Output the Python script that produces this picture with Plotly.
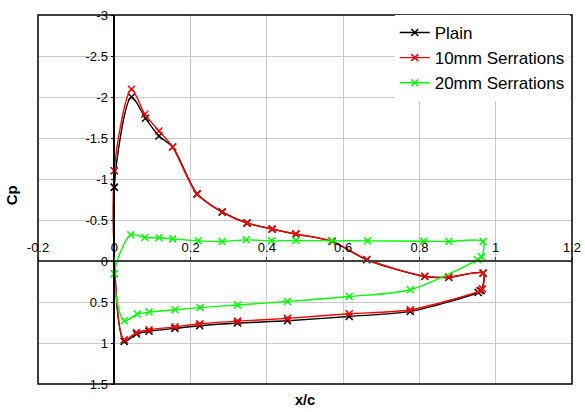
import plotly.graph_objects as go

# Pressure coefficient around the aerofoil: upper surface LE -> TE, then lower surface TE -> LE
plain_x = [0, 0.045, 0.082, 0.117, 0.153, 0.217, 0.283, 0.348, 0.414, 0.476, 0.571, 0.662, 0.814, 0.877, 0.967,
           0.962, 0.954, 0.776, 0.616, 0.454, 0.323, 0.224, 0.159, 0.091, 0.058, 0.026, 0]
plain_cp = [-0.90, -2.00, -1.74, -1.525, -1.39, -0.82, -0.596, -0.462, -0.389, -0.328, -0.238, -0.015, 0.19, 0.20, 0.148,
            0.36, 0.384, 0.615, 0.676, 0.729, 0.757, 0.79, 0.822, 0.857, 0.89, 0.98, -0.90]

serr10_x = [0, 0.045, 0.080, 0.117, 0.153, 0.217, 0.283, 0.348, 0.414, 0.476, 0.571, 0.662, 0.814, 0.877, 0.967,
            0.965, 0.958, 0.776, 0.616, 0.454, 0.323, 0.224, 0.159, 0.091, 0.058, 0.026, 0]
serr10_cp = [-1.10, -2.095, -1.79, -1.586, -1.39, -0.815, -0.60, -0.465, -0.39, -0.33, -0.24, -0.018, 0.185, 0.195, 0.15,
             0.34, 0.363, 0.595, 0.643, 0.70, 0.733, 0.765, 0.803, 0.838, 0.873, 0.96, -1.10]

serr20_x = [0, 0.043, 0.080, 0.117, 0.153, 0.220, 0.283, 0.346, 0.412, 0.476, 0.569, 0.664, 0.811, 0.877, 0.967,
            0.963, 0.952, 0.776, 0.616, 0.454, 0.323, 0.225, 0.159, 0.091, 0.060, 0.026, 0]
serr20_cp = [0.156, -0.32, -0.286, -0.283, -0.27, -0.246, -0.238, -0.258, -0.246, -0.25, -0.246, -0.246, -0.24, -0.238, -0.238,
             -0.05, -0.015, 0.351, 0.433, 0.493, 0.537, 0.568, 0.595, 0.623, 0.647, 0.729, 0.156]

series_names = ["Plain", "10mm Serrations", "20mm Serrations"]
series_colors = ["#000000", "#ff0000", "#00ff00"]

x_ticks = [-0.2, 0, 0.2, 0.4, 0.6, 0.8, 1, 1.2]
x_ticktext = ["-0.2", "0", "0.2", "0.4", "0.6", "0.8", "1", "1.2"]
y_ticks = [-3, -2.5, -2, -1.5, -1, -0.5, 0, 0.5, 1, 1.5]
y_ticktext = ["-3", "-2.5", "-2", "-1.5", "-1", "-0.5", "0", "0.5", "1", "1.5"]

FONT = "Liberation Sans, Arial, sans-serif"

fig = go.Figure()
for name, color, xs, ys in zip(series_names, series_colors,
                               [plain_x, serr10_x, serr20_x],
                               [plain_cp, serr10_cp, serr20_cp]):
    fig.add_trace(go.Scatter(
        x=xs, y=ys, name=name, mode="lines+markers",
        line=dict(color=color, width=1.4, shape="spline", smoothing=0.8),
        marker=dict(symbol="x-thin", size=7, color=color, line=dict(color=color, width=1.5)),
    ))

x_range = [-0.2, 1.2]
y_range = [1.5, -3]

fig.update_layout(
    width=585, height=412,
    margin=dict(l=38, r=12.5, t=15, b=28, autoexpand=False),
    paper_bgcolor="white", plot_bgcolor="white",
    font=dict(family=FONT, color="black"),
    showlegend=True,
    legend=dict(
        x=0.668, y=1.0, xanchor="left", yanchor="top",
        bgcolor="white", borderwidth=0,
        font=dict(family=FONT, size=17, color="black"),
        itemwidth=30, tracegroupgap=0,
    ),
    xaxis=dict(
        range=x_range, tickvals=x_ticks, ticktext=x_ticktext,
        anchor="free", position=(y_range[0] - 0) / (y_range[0] - y_range[1]), side="top",
        showline=True, linecolor="#404040", linewidth=1.5,
        ticks="outside", ticklen=3, tickcolor="#404040",
        showgrid=True, gridcolor="#c8c8c8", gridwidth=1,
        zeroline=False, tickfont=dict(size=13, family=FONT),
    ),
    yaxis=dict(
        range=y_range, tickvals=y_ticks, ticktext=y_ticktext,
        anchor="free", position=(0 - x_range[0]) / (x_range[1] - x_range[0]), side="left",
        showline=True, linecolor="black", linewidth=1.5,
        ticks="outside", ticklen=3, tickcolor="black",
        showgrid=True, gridcolor="#c8c8c8", gridwidth=1,
        zeroline=False, tickfont=dict(size=13, family=FONT),
    ),
)

# outer frame around the plotting area
fig.add_shape(type="rect", xref="paper", yref="paper", x0=0, y0=0, x1=1, y1=1,
              line=dict(color="black", width=1.5), layer="above")

# axis titles
fig.add_annotation(text="<b>x/c</b>", xref="paper", yref="paper", x=0.5, y=0,
                   xanchor="center", yanchor="top", yshift=-6, showarrow=False,
                   font=dict(size=14.5, family=FONT))
fig.add_annotation(text="<b>Cp</b>", xref="paper", yref="paper", x=0, y=0.51,
                   xanchor="right", yanchor="middle", xshift=-16, textangle=-90,
                   showarrow=False, font=dict(size=15, family=FONT))

fig.write_html("out.html")
